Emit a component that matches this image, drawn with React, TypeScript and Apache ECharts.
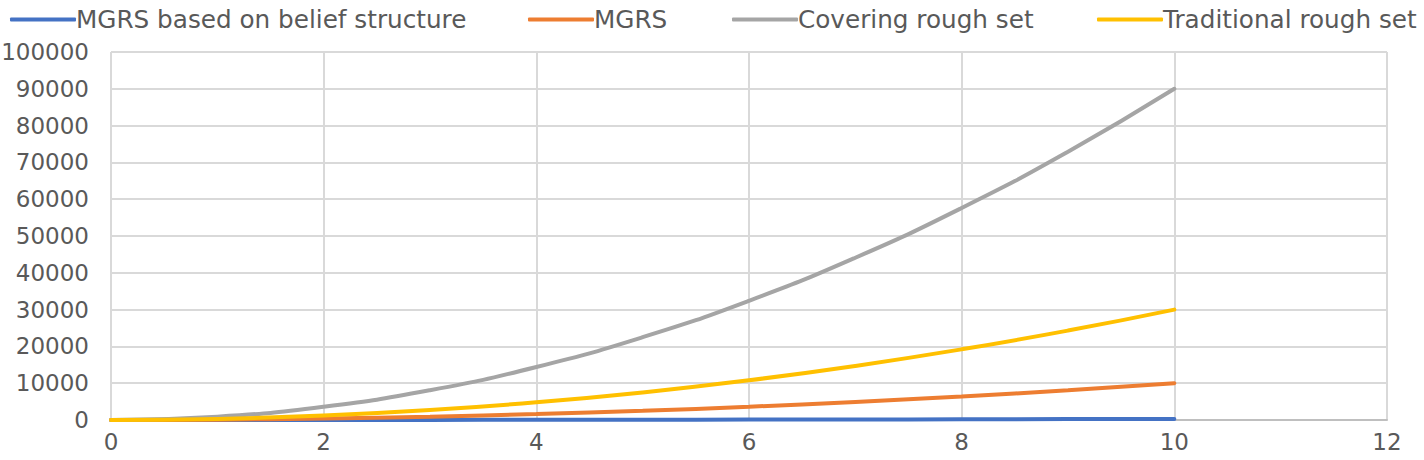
import React, { useEffect, useRef } from "react";
import * as echarts from "echarts";

const xValues = [0, 1, 2, 3, 4, 5, 6, 7, 8, 9, 10];
const beliefMGRS = [0, 3, 12, 27, 48, 75, 108, 147, 192, 243, 300];
const mgrs = [0, 100, 400, 900, 1600, 2500, 3600, 4900, 6400, 8100, 10000];
const covering = [0, 900, 3600, 8100, 14400, 22500, 32400, 44100, 57600, 72900, 90000];
const traditional = [0, 300, 1200, 2700, 4800, 7500, 10800, 14700, 19200, 24300, 30000];

const seriesNames = [
  "MGRS based on belief structure",
  "MGRS",
  "Covering rough set",
  "Traditional rough set",
];
const seriesData = [beliefMGRS, mgrs, covering, traditional];
const colors = ["#4472c4", "#ed7d31", "#a5a5a5", "#ffc000"];
const legendLefts = [5, 523, 727, 1092];

const FONT = "'DejaVu Sans', sans-serif";

export default function App() {
  const ref = useRef<HTMLDivElement>(null);
  useEffect(() => {
    if (!ref.current) return;
    const chart = echarts.init(ref.current, null, { renderer: "svg" });
    chart.setOption({
      animation: false,
      textStyle: { fontFamily: FONT },
      legend: seriesNames.map((n, i) => ({
        data: [n],
        left: legendLefts[i],
        top: 2,
        itemWidth: 66,
        itemHeight: 4,
        itemGap: 5,
        icon: "roundRect",
        textStyle: { fontSize: 24.7, color: "#595959", fontFamily: FONT, padding: [0, 0, 0, -5] },
      })),
      grid: { left: 111, right: 37, top: 52, bottom: 40, outerBoundsMode: "none" },
      xAxis: {
        type: "value",
        min: 0,
        max: 12,
        interval: 2,
        axisLine: { show: true, lineStyle: { color: "#bfbfbf", width: 2 } },
        axisTick: { show: false },
        splitLine: { show: true, lineStyle: { color: "#d9d9d9", width: 2 } },
        axisLabel: { fontSize: 23, color: "#595959", fontFamily: FONT, margin: 10 },
      },
      yAxis: {
        type: "value",
        min: 0,
        max: 100000,
        interval: 10000,
        axisLine: { show: false },
        axisTick: { show: false },
        splitLine: { show: true, lineStyle: { color: "#d9d9d9", width: 2 } },
        axisLabel: {
          fontSize: 23,
          color: "#595959",
          fontFamily: FONT,
          margin: 22,
          formatter: (v: number) => String(v),
        },
      },
      series: seriesNames.map((n, i) => ({
        name: n,
        type: "line",
        smooth: true,
        showSymbol: false,
        symbol: "none",
        data: xValues.map((x, j) => [x, seriesData[i][j]]),
        lineStyle: { color: colors[i], width: 4, cap: "round" },
        itemStyle: { color: colors[i] },
      })),
    });
    return () => chart.dispose();
  }, []);
  return <div ref={ref} style={{ width: 1424, height: 460, position: "absolute", left: 0, top: 0 }} />;
}
